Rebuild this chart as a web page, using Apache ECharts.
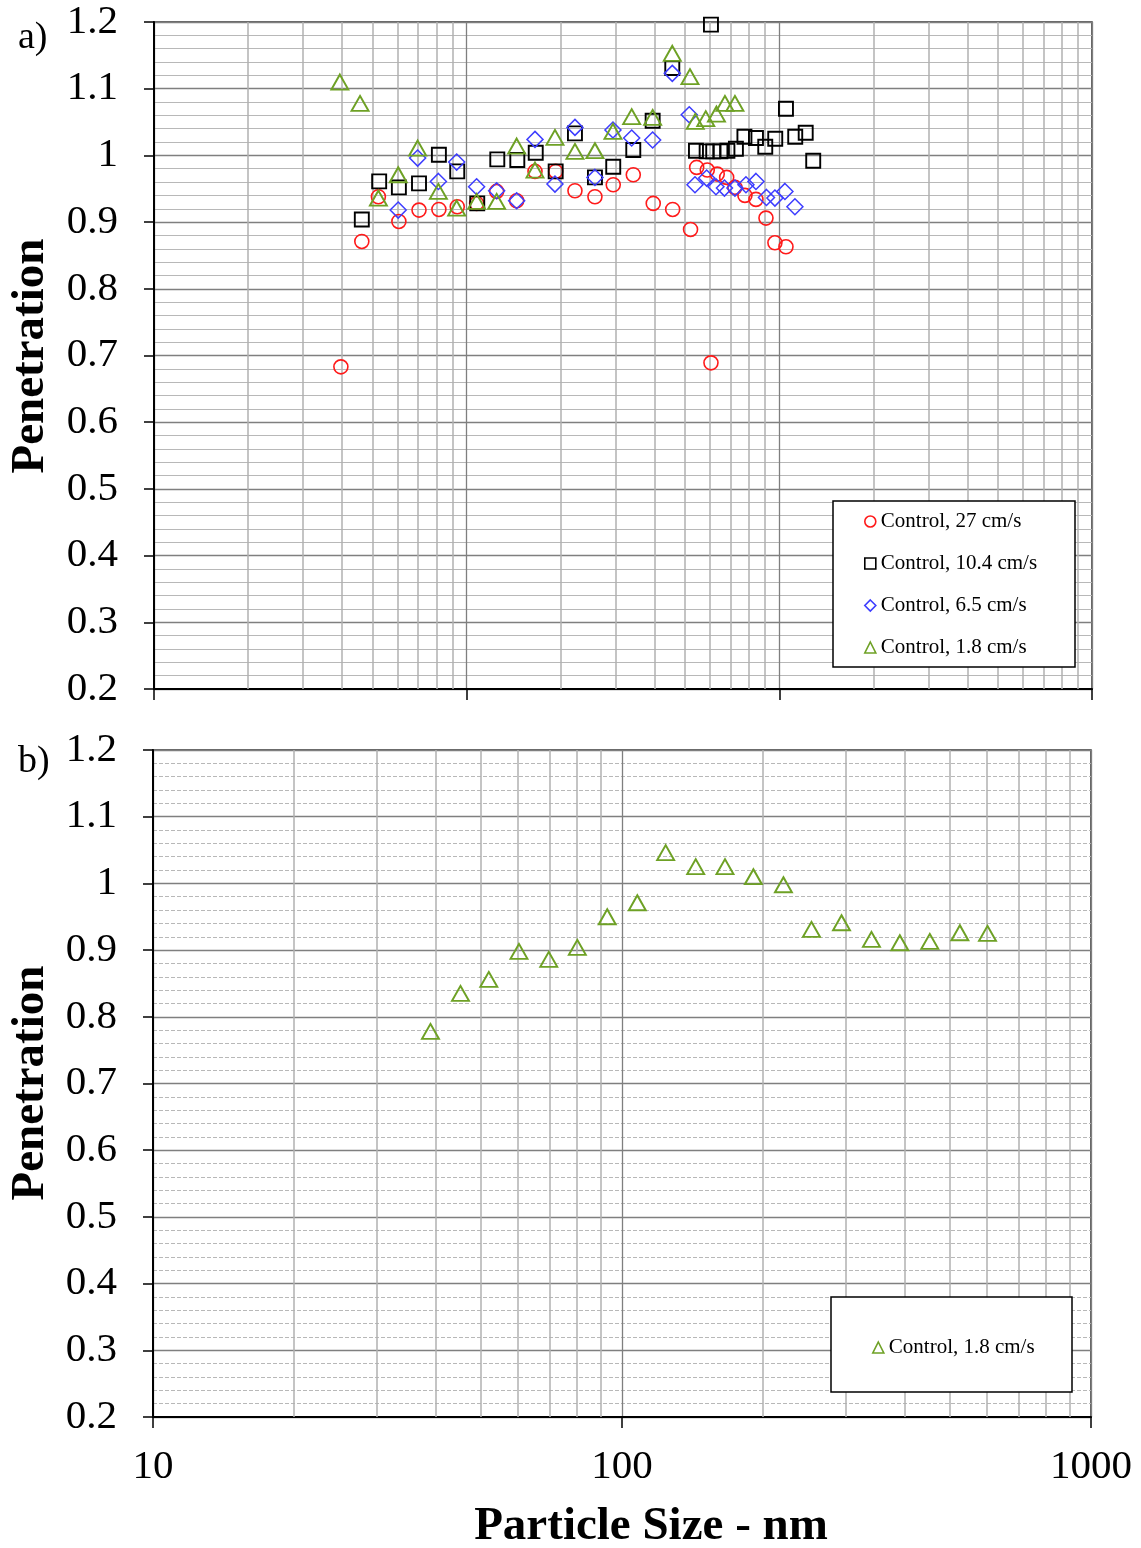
<!DOCTYPE html>
<html><head><meta charset="utf-8">
<script src="https://cdn.jsdelivr.net/npm/echarts/dist/echarts.min.js"></script>
<style>html,body{margin:0;padding:0;background:#fff}#c{width:1141px;height:1548px}</style>
</head><body><div id="c"></div>
<script>
// ---- data (particle size in nm, penetration) ----
const seriesNames = ['Control, 27 cm/s', 'Control, 10.4 cm/s', 'Control, 6.5 cm/s', 'Control, 1.8 cm/s'];

const sizesA27 = [39.6,46.2,52.2,60.7,70.4,81.5,93.3,107.6,124.7,144.5,165.4,192.6,222.0,257.2,294.3,341.1,395.1,455.9,520.0,604.4,544.0,588.2,633.0,678.5,721.1,776.2,841.9,906.3,968.0,1050.0];
const penA27   = [0.683,0.871,0.938,0.901,0.918,0.919,0.923,0.928,0.946,0.932,0.976,0.976,0.947,0.938,0.956,0.971,0.928,0.919,0.889,0.689,0.982,0.978,0.972,0.967,0.952,0.940,0.934,0.906,0.869,0.863];

const sizesA104 = [46.2,52.5,60.7,70.4,81.5,93.3,108.1,125.3,145.2,166.3,192.6,222.0,257.2,294.3,341.1,393.4,454.6,604.4,541.2,585.5,614.6,648.0,682.3,726.3,773.3,841.9,901.5,970.3,1050.0,1124.2,1214.3,1283.5];
const penA104   = [0.904,0.961,0.952,0.958,1.001,0.976,0.928,0.994,0.993,1.004,0.976,1.033,0.967,0.983,1.008,1.052,1.131,1.196,1.007,1.006,1.006,1.006,1.007,1.010,1.028,1.026,1.013,1.025,1.070,1.028,1.034,0.992];

const sizesA65 = [60.4,69.7,81.2,92.9,107.6,124.7,144.5,165.4,191.6,222.0,257.2,293.7,337.1,393.4,454.6,515.0,537.3,585.5,627.0,667.5,721.1,782.0,841.9,909.6,968.0,1042.1,1121.6];
const penA65   = [0.918,0.996,0.961,0.990,0.953,0.947,0.932,1.024,0.957,1.042,0.967,1.038,1.026,1.023,1.123,1.061,0.956,0.966,0.953,0.951,0.951,0.956,0.961,0.937,0.936,0.946,0.923];

const sizesA18 = [39.3,45.6,52.2,60.4,69.7,81.2,92.9,107.6,124.7,144.5,165.4,191.6,222.0,257.2,293.7,337.1,393.4,454.6,517.8,538.5,581.6,629.4,669.9,721.1];
const penA18   = [1.110,1.078,0.936,0.971,1.011,0.946,0.921,0.931,0.931,1.014,0.978,1.027,1.006,1.007,1.036,1.058,1.057,1.153,1.118,1.051,1.055,1.062,1.078,1.078];

const sizesB18 = [39.05,45.25,52.0,60.3,69.8,80.3,93.0,107.8,123.9,143.6,165.8,190.6,220.9,253.5,293.8,340.3,391.2,453.2,525.3,601.6];
const penB18   = [0.778,0.835,0.856,0.898,0.886,0.904,0.950,0.971,1.046,1.025,1.025,1.010,0.998,0.931,0.941,0.916,0.911,0.913,0.926,0.925];

// ---- axis ticks ----
const xMinA = 10, xMaxA = 10000;
const xMinB = 10, xMaxB = 1000;
const yMin = 0.2, yMax = 1.2, yStep = 0.1;
const minorGridA = [20,30,40,50,60,70,80,90,200,300,400,500,600,700,800,900,2000,3000,4000,5000,6000,7000,8000,9000];
const minorGridB = [20,30,40,50,60,70,80,90,200,300,400,500,600,700,800,900];

const FONT = 'Liberation Serif';
const RED = '#ff1a1a', BLACK = '#000000', BLUE = '#3d3dff', GREEN = '#6ea125';

const pairs = (xs, ys) => xs.map((x, i) => [x, ys[i]]);

function xAxisCfg(gi, min, max, showLabels) {
  return {
    type: 'log', logBase: 10, gridIndex: gi, min: min, max: max,
    axisLine: { show: true, onZero: false, lineStyle: { color: '#000', width: 2 } },
    axisTick: { show: true, length: 11, inside: false, lineStyle: { color: '#000', width: 1.5 } },
    axisLabel: { show: showLabels, fontFamily: FONT, fontSize: 41, color: '#000', margin: 30,
                 formatter: v => String(Math.round(v)) },
    splitLine: { show: true, lineStyle: { color: '#7f7f7f', width: 1.3 } },
    minorTick: { show: false }, minorSplitLine: { show: false }
  };
}
function yAxisCfg(gi, dashed) {
  return {
    type: 'value', gridIndex: gi, min: yMin, max: yMax, interval: yStep,
    axisLine: { show: true, onZero: false, lineStyle: { color: '#000', width: 2 } },
    axisTick: { show: true, length: 10, lineStyle: { color: '#000', width: 1.5 } },
    axisLabel: { fontFamily: FONT, fontSize: 41, color: '#000', margin: 36,
                 formatter: v => String(+(+v).toFixed(1)) },
    splitLine: { show: true, lineStyle: { color: '#7f7f7f', width: 1.3 } },
    minorTick: { show: false, splitNumber: 5 },
    minorSplitLine: { show: true, lineStyle: { color: '#b8b8b8', width: 1.2, type: dashed ? [4, 2] : 'solid' } }
  };
}
function gridLines(gi, vals) {
  return {
    type: 'scatter', xAxisIndex: gi, yAxisIndex: gi, data: [], silent: true, z: 1,
    markLine: { silent: true, z: 1, symbol: ['none', 'none'], label: { show: false }, animation: false,
      lineStyle: { color: '#b0b0b0', width: 1.5, type: 'solid' },
      emphasis: { disabled: true },
      data: vals.map(v => ({ xAxis: v })) }
  };
}
function sc(name, gi, data, symbol, size, color, bw) {
  return {
    name: name, type: 'scatter', xAxisIndex: gi, yAxisIndex: gi, data: data,
    symbol: symbol, symbolSize: size, z: 3,
    itemStyle: { color: 'transparent', borderColor: color, borderWidth: bw, opacity: 1 },
    emphasis: { disabled: true }
  };
}
const legendText = { fontFamily: FONT, fontSize: 21, color: '#000' };
const legIcon = (name, icon, color) => ({ name: name, icon: icon,
  itemStyle: { color: 'transparent', borderColor: color, borderWidth: 1.6 } });

const chart = echarts.init(document.getElementById('c'), null, { renderer: 'canvas' });
chart.setOption({
  animation: false,
  backgroundColor: '#fff',
  grid: [
    { left: 154, top: 22, width: 938, height: 667, show: true, borderColor: '#333', borderWidth: 1.5, backgroundColor: 'transparent', outerBoundsMode: 'none' },
    { left: 153, top: 750, width: 938, height: 667, show: true, borderColor: '#333', borderWidth: 1.5, backgroundColor: 'transparent', outerBoundsMode: 'none' }
  ],
  xAxis: [ xAxisCfg(0, xMinA, xMaxA, false), xAxisCfg(1, xMinB, xMaxB, true) ],
  yAxis: [ yAxisCfg(0, false), yAxisCfg(1, true) ],
  legend: [
    { left: 864, top: 511, orient: 'vertical', itemGap: 21, itemWidth: 11, itemHeight: 11, padding: 0,
      selectedMode: false, textStyle: legendText, z: 8,
      data: [ legIcon(seriesNames[0], 'circle', RED), legIcon(seriesNames[1], 'rect', BLACK),
              legIcon(seriesNames[2], 'diamond', BLUE), legIcon(seriesNames[3], 'triangle', GREEN) ] },
    { left: 872, top: 1337, orient: 'vertical', itemWidth: 11, itemHeight: 11, padding: 0,
      selectedMode: false, textStyle: legendText, z: 8,
      data: [ legIcon(seriesNames[3], 'triangle', GREEN) ] }
  ],
  graphic: [
    { type: 'rect', z: 6, shape: { x: 833, y: 501, width: 242, height: 166 }, style: { fill: '#fff', stroke: '#000', lineWidth: 1.5 } },
    { type: 'rect', z: 6, shape: { x: 831, y: 1297, width: 241, height: 95 }, style: { fill: '#fff', stroke: '#000', lineWidth: 1.5 } },
    { type: 'text', z: 7, x: 18, y: 38, style: { text: 'a)', font: '38px "Liberation Serif"', fill: '#000', textVerticalAlign: 'middle', verticalAlign: 'middle' } },
    { type: 'text', z: 7, x: 18, y: 762, style: { text: 'b)', font: '38px "Liberation Serif"', fill: '#000', textVerticalAlign: 'middle', verticalAlign: 'middle' } },
    { type: 'text', z: 7, x: 31, y: 356, rotation: Math.PI / 2, style: { text: 'Penetration', font: 'bold 47px "Liberation Serif"', fill: '#000', align: 'center', textAlign: 'center', verticalAlign: 'middle', textVerticalAlign: 'middle' } },
    { type: 'text', z: 7, x: 31, y: 1083, rotation: Math.PI / 2, style: { text: 'Penetration', font: 'bold 47px "Liberation Serif"', fill: '#000', align: 'center', textAlign: 'center', verticalAlign: 'middle', textVerticalAlign: 'middle' } },
    { type: 'text', z: 7, x: 651, y: 1527, style: { text: 'Particle Size - nm', font: 'bold 47px "Liberation Serif"', fill: '#000', align: 'center', textAlign: 'center', verticalAlign: 'middle', textVerticalAlign: 'middle' } }
  ],
  series: [
    gridLines(0, minorGridA),
    gridLines(1, minorGridB),
    sc(seriesNames[0], 0, pairs(sizesA27, penA27), 'circle', 14, RED, 1.6),
    sc(seriesNames[1], 0, pairs(sizesA104, penA104), 'rect', 14, BLACK, 1.9),
    sc(seriesNames[2], 0, pairs(sizesA65, penA65), 'diamond', 16, BLUE, 1.5),
    sc(seriesNames[3], 0, pairs(sizesA18, penA18), 'triangle', [17, 15], GREEN, 1.9),
    sc(seriesNames[3], 1, pairs(sizesB18, penB18), 'triangle', [17, 15], GREEN, 1.9)
  ]
});
</script>
</body></html>
